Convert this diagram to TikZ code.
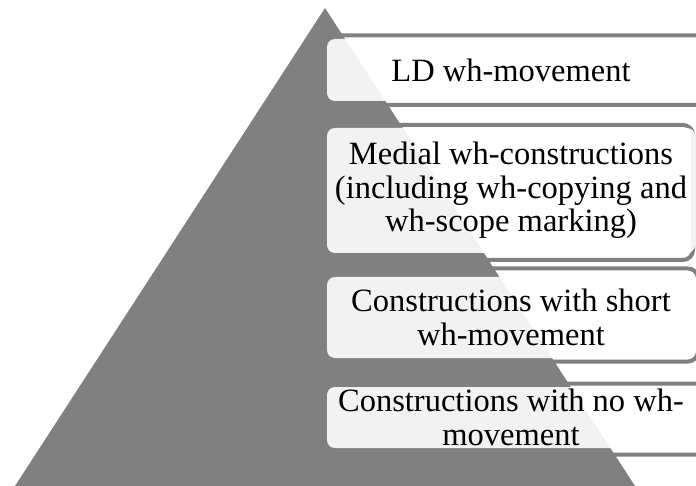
\documentclass[tikz,border=0pt]{standalone}
\usepackage{fontspec}
\setmainfont{Liberation Serif}
\begin{document}
\begin{tikzpicture}
  [x=1pt,y=-1pt,every node/.style={rounded corners=8pt,fill=white,fill opacity=.9,text opacity=1,
   align=center,font=\fontsize{32.5}{33.5}\selectfont,minimum width=368pt,inner sep=0pt}]
  \useasboundingbox (0,0) rectangle (696,486);
  \fill[gray] (325,8) -- (635,486) -- (15,486) -- cycle;

  % frames behind the levels
  \foreach \ya/\yb/\xb in {35.5/105/712,125/260/693,268.5/361.5/698,383.5/454.5/712}
    \draw[gray,line width=4pt,rounded corners=10pt] (322,\ya) rectangle (\xb,\yb);

  \node (ld) at (511,70) [minimum height=62pt] {LD wh-movement};
  \node (medial) at (511,190.5) [minimum height=125pt] {Medial wh-constructions\\(including wh-copying and\\wh-scope marking)};
  \node (short) at (511,317.5) [minimum height=81pt] {Constructions with short\\wh-movement};
  \node (none) at (511,417.5) [minimum height=61pt] {Constructions with no wh-\\movement};
\end{tikzpicture}
\end{document}
